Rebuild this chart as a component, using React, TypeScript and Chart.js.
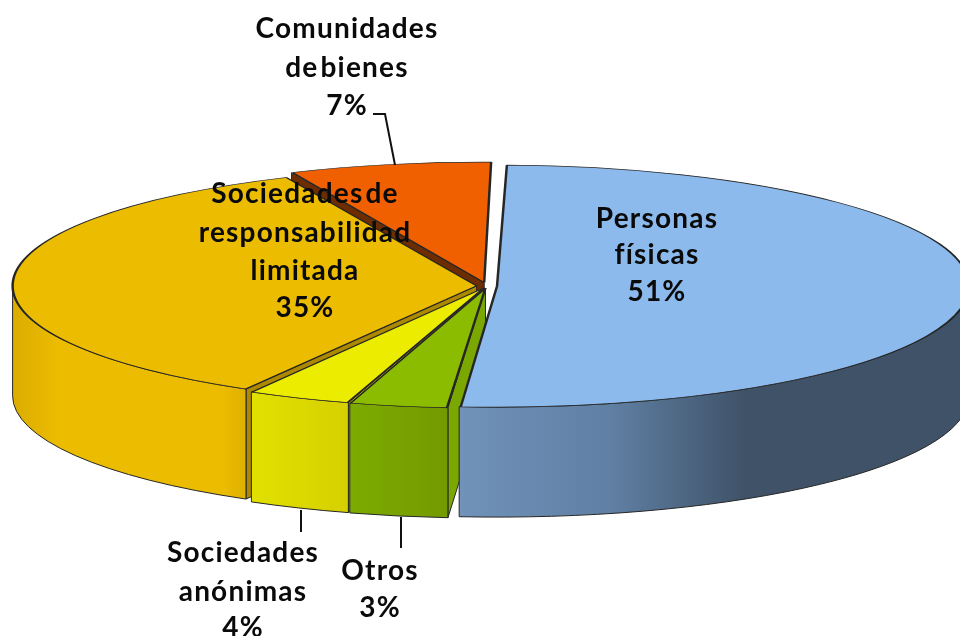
import React, { useEffect, useRef } from "react";
import { Chart, registerables } from "chart.js";

Chart.register(...registerables);

// Data (clockwise from the top)
const categories = [
  "Personas\nfísicas",
  "Otros",
  "Sociedades\nanónimas",
  "Sociedades de\nresponsabilidad\nlimitada",
  "Comunidades\nde bienes",
];
const shares = [51, 3.4, 3.6, 35, 7];

// Styles
const topColors = ["#8cbaec", "#8cbc00", "#ecec00", "#ecbc00", "#f06000"];
const faceColors = ["#5a7a9c", "#7aa800", "#c8c800", "#ac8900", "#6e2d00"];
const wallStops: [number, string][][] = [
  [[0, "#7192b9"], [0.3, "#5f7fa3"], [0.56, "#3f5268"], [1, "#3f5268"]],
  [[0, "#7dab00"], [1, "#749a00"]],
  [[0, "#e2e000"], [1, "#d6d000"]],
  [[0, "#dcae00"], [0.02, "#dcae00"], [0.2, "#ecbc00"], [0.9, "#ecbc00"], [1, "#deb000"]],
  [[0, "#b84a00"], [1, "#b84a00"]],
];
const sliceOffsets = [26, 21, 20, 27, 36];

// Layout
const ROTATION = 1;
const CENTER_X = 487;
const CENTER_Y = 286;
const RADIUS_X = 462;
const RADIUS_Y = 118.4;
const DEPTH = 110;
const EDGE = "#262626";
const FONT = "bold 28px Lato";

const labelLayout = [
  { x: 657, ys: [219, 255, 292] },
  { x: 380, ys: [571, 608] },
  { x: 243, ys: [553, 592, 628] },
  { x: 305, ys: [194, 233, 271, 308] },
  { x: 347, ys: [29, 68, 106] },
];
const leaders: [number, number][][] = [
  [[373, 114], [385, 114], [395, 165]],
  [[301, 510], [301, 532]],
  [[401, 517], [401, 548]],
];

const pie3d = {
  id: "pie3d",
  beforeDatasetsDraw(chart: any) {
    const ctx = chart.ctx as CanvasRenderingContext2D;
    const arcs = chart.getDatasetMeta(0).data as any[];
    const r = arcs[0].outerRadius;
    const sx = RADIUS_X / r;
    const sy = RADIUS_Y / r;
    // Same geometry the arc element uses for its "offset" option
    const geo = arcs.map((a, i) => {
      const mid = (a.startAngle + a.endAngle) / 2;
      const off = sliceOffsets[i] / 4;
      const fix = 1 - Math.sin(Math.min(Math.PI, a.circumference));
      return {
        s: a.startAngle as number,
        e: a.endAngle as number,
        rx: (r + off * fix) * sx,
        ry: (r + off * fix) * sy,
        ox: CENTER_X + sx * off * Math.cos(mid),
        oy: CENTER_Y + sy * off * Math.sin(mid),
      };
    });
    ctx.save();
    ctx.lineWidth = 1;
    ctx.strokeStyle = EDGE;
    ctx.lineJoin = "round";

    // Cut faces that look towards the viewer, back to front
    const order = geo.map((_, i) => i).sort((a, b) => Math.sin(geo[a].s) - Math.sin(geo[b].s));
    order.forEach((i) => {
      const g = geo[i];
      if (Math.cos(g.s) >= 0) return;
      const px = g.ox + g.rx * Math.cos(g.s);
      const py = g.oy + g.ry * Math.sin(g.s);
      ctx.beginPath();
      ctx.moveTo(g.ox, g.oy);
      ctx.lineTo(px, py);
      ctx.lineTo(px, py + DEPTH);
      ctx.lineTo(g.ox, g.oy + DEPTH);
      ctx.closePath();
      ctx.fillStyle = faceColors[i];
      ctx.fill();
      ctx.stroke();
    });

    // Outer walls
    geo.forEach((g, i) => {
      const from = Math.max(g.s, 0);
      const to = Math.min(g.e, Math.PI);
      if (to <= from) return;
      const x0 = g.ox + g.rx * Math.cos(to);
      const x1 = g.ox + g.rx * Math.cos(from);
      const grad = ctx.createLinearGradient(x0, 0, x1, 0);
      wallStops[i].forEach(([p, c]) => grad.addColorStop(p, c));
      ctx.beginPath();
      ctx.ellipse(g.ox, g.oy, g.rx, g.ry, 0, from, to, false);
      ctx.ellipse(g.ox, g.oy + DEPTH, g.rx, g.ry, 0, to, from, true);
      ctx.closePath();
      ctx.fillStyle = grad;
      ctx.fill();
      ctx.stroke();
    });
    ctx.restore();

    // The library's own arcs become the flattened top of the pie
    ctx.save();
    ctx.translate(CENTER_X, CENTER_Y);
    ctx.scale(sx, sy);
    ctx.translate(-arcs[0].x, -arcs[0].y);
  },
  afterDatasetsDraw(chart: any) {
    chart.ctx.restore();
  },
  afterDraw(chart: any) {
    const ctx = chart.ctx as CanvasRenderingContext2D;
    ctx.save();
    ctx.strokeStyle = "#111111";
    ctx.lineWidth = 2;
    leaders.forEach((pts) => {
      ctx.beginPath();
      pts.forEach(([x, y], k) => (k ? ctx.lineTo(x, y) : ctx.moveTo(x, y)));
      ctx.stroke();
    });
    ctx.fillStyle = "#0a0a0a";
    ctx.font = FONT;
    (ctx as any).letterSpacing = "1.2px";
    (ctx as any).wordSpacing = "-6px";
    ctx.textAlign = "center";
    ctx.textBaseline = "middle";
    categories.forEach((c, i) => {
      const lines = [...c.split("\n"), `${Math.round(shares[i])}%`];
      const l = labelLayout[i];
      lines.forEach((t, k) => ctx.fillText(t, l.x, l.ys[k]));
    });
    ctx.restore();
  },
};

export default function App() {
  const ref = useRef<HTMLCanvasElement>(null);
  useEffect(() => {
    document.body.style.margin = "0";
    const chart = new Chart(ref.current!, {
      type: "pie",
      data: {
        labels: categories.map((c) => c.replace(/\n/g, " ")),
        datasets: [
          {
            data: shares,
            backgroundColor: topColors,
            borderColor: EDGE,
            borderWidth: 1.6,
            offset: sliceOffsets,
            clip: false,
          } as any,
        ],
      },
      options: {
        responsive: false,
        animation: false,
        rotation: ROTATION,
        layout: { padding: 0 },
        plugins: { legend: { display: false }, tooltip: { enabled: false } },
      },
      plugins: [pie3d],
    });
    return () => chart.destroy();
  }, []);
  return <canvas ref={ref} width={960} height={636} style={{ display: "block" }} />;
}
